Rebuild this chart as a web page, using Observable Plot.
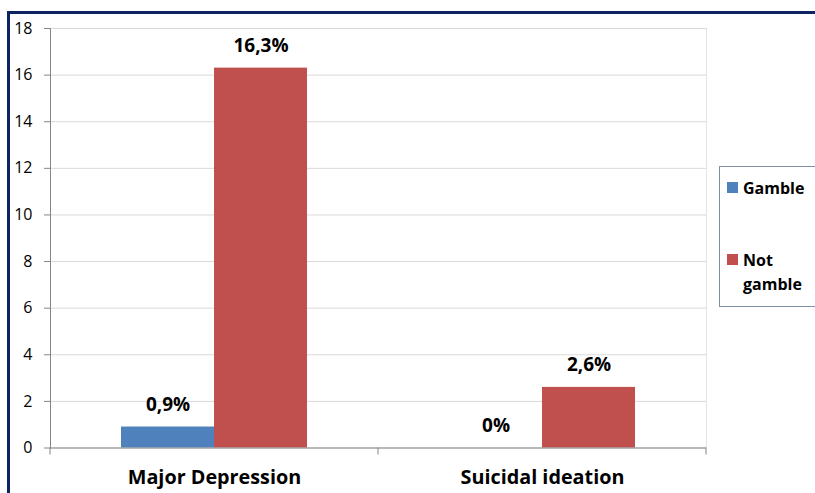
<!DOCTYPE html>
<html>
<head>
<meta charset="utf-8">
<script src="https://cdn.jsdelivr.net/npm/d3@7"></script>
<script src="https://cdn.jsdelivr.net/npm/@observablehq/plot@0.6"></script>
<style>
  html, body { margin: 0; padding: 0; background: #fff; }
  #wrap { position: relative; width: 815px; height: 493px; overflow: hidden; font-family: "Open Sans", sans-serif; }
  #border { position: absolute; left: 7px; top: 11px; right: -10px; bottom: -10px; border-top: 3px solid #0c2462; border-left: 3px solid #0c2462; }
  #chart { position: absolute; left: 0; top: 0; }
  #legend { position: absolute; left: 719px; top: 166px; width: 120px; height: 141px; border: 1px solid #7f8fa9; background: #fff; box-sizing: border-box; }
  .item { position: absolute; left: 7px; display: flex; align-items: flex-start; font-weight: bold; font-size: 16px; line-height: 24px; color: #000; }
  .sw { width: 11px; height: 11px; margin-top: 6px; margin-right: 5px; flex: none; }
</style>
</head>
<body>
<div id="wrap">
  <div id="chart"></div>
  <div id="border"></div>
  <div id="legend"></div>
</div>
<script>
const categories = ["Major Depression", "Suicidal ideation"];
const series = ["Gamble", "Not gamble"];
const gambleValues = [0.9, 0];
const notGambleValues = [16.3, 2.6];
const yTicks = [0, 2, 4, 6, 8, 10, 12, 14, 16, 18];
const colors = ["#4F81BD", "#C0504D"];

const data = categories.flatMap((c, i) => [
  {category: c, series: series[0], value: gambleValues[i]},
  {category: c, series: series[1], value: notGambleValues[i]}
]);
const fmt = v => (v === 0 ? "0" : v.toFixed(1).replace(".", ",")) + "%";

const chart = Plot.plot({
  width: 815,
  height: 493,
  marginLeft: 49,
  marginRight: 109,
  marginTop: 28,
  marginBottom: 45.5,
  style: {fontFamily: "'Open Sans', sans-serif", background: "transparent", color: "#000"},
  fx: {domain: categories, padding: 0, label: null},
  x: {domain: series, paddingInner: 0, paddingOuter: 0.755, axis: null},
  y: {domain: [0, 18], label: null},
  color: {domain: series, range: colors},
  marks: [
    Plot.gridY(yTicks, {stroke: "#d9d9d9", strokeOpacity: 1}),
    Plot.frame({anchor: "right", facetAnchor: "right", stroke: "#e3e3e3"}),
    Plot.barY(data, {fx: "category", x: "series", y: "value", fill: "series"}),
    Plot.ruleY([0], {stroke: "#868686"}),
    Plot.frame({anchor: "left", facetAnchor: "left", stroke: "#868686"}),
    Plot.axisY(yTicks, {tickSize: 6, tickPadding: 12, fontSize: 16, stroke: "#868686", fill: "#000", label: null}),
    Plot.text(data, {fx: "category", x: "series", y: "value", text: d => fmt(d.value), dy: -22, fontSize: 19, fontWeight: "bold", fill: "#000"}),
    Plot.axisFx({anchor: "bottom", tickSize: 0, tickPadding: 22, fontSize: 19.8, fontWeight: "bold", label: null})
  ]
});
document.getElementById("chart").appendChild(chart);

// category boundary ticks below the baseline, positioned with the plot's scales
const fxs = chart.scale("fx");
const ys = chart.scale("y");
const y0 = ys.apply(0);
const bounds = [fxs.apply(categories[0]), ...categories.map(c => fxs.apply(c) + fxs.bandwidth)];
const svg = d3.select(chart.tagName.toLowerCase() === "svg" ? chart : chart.querySelector("svg"));
svg.append("g").selectAll("line").data(bounds).join("line")
  .attr("x1", d => d).attr("x2", d => d)
  .attr("y1", y0).attr("y2", y0 + 7)
  .attr("stroke", "#868686");

// legend
const legend = d3.select("#legend");
const items = [{label: "Gamble", top: 9}, {label: "Not<br>gamble", top: 81}];
items.forEach((it, i) => {
  const div = legend.append("div").attr("class", "item").style("top", it.top + "px");
  div.append("div").attr("class", "sw").style("background", colors[i]);
  div.append("div").html(it.label);
});
</script>
</body>
</html>
